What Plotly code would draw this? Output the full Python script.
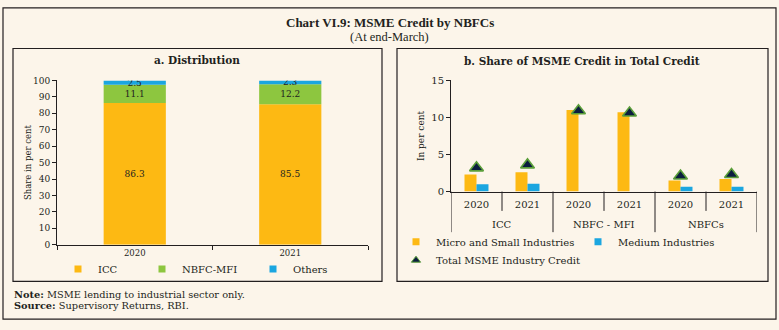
import plotly.graph_objects as go

W, H = 779, 330
BG = "#FCF5EA"
INK = "#231F20"
YEL = "#FDB913"
GRN = "#8DC63F"
BLU = "#1BA6E0"
NAVY = "#0B1D3F"
TRI_EDGE = "#5A9E3A"

# Panel a data
years_a = ["2020", "2021"]
icc = [86.3, 85.5]
nbfc_mfi = [11.1, 12.2]
others = [2.5, 2.3]

# Panel b data
groups_b = ["ICC", "ICC", "NBFC - MFI", "NBFC - MFI", "NBFCs", "NBFCs"]
years_b = ["2020", "2021", "2020", "2021", "2020", "2021"]
micro_small = [2.3, 2.6, 11.0, 10.7, 1.5, 1.7]
medium = [1.0, 1.05, 0.0, 0.0, 0.65, 0.65]
total_msme = [3.2, 3.6, 10.9, 10.6, 2.1, 2.3]

SERIF = "DejaVu Serif"

def px_x(v):
    return v / W

def px_y(v):
    return 1 - v / H

fig = go.Figure()

# Panel a: stacked via explicit base
base_mfi = [a for a in icc]
base_oth = [a + b for a, b in zip(icc, nbfc_mfi)]
for name, vals, base, col, lg in [
    ("ICC", icc, None, YEL, "legend"),
    ("NBFC-MFI", nbfc_mfi, base_mfi, GRN, "legend2"),
    ("Others", others, base_oth, BLU, "legend3"),
]:
    fig.add_trace(go.Bar(
        x=years_a, y=vals, base=base, name=name, marker_color=col,
        marker_line_width=0, width=0.4, offsetgroup="a",
        text=[f"{v:.1f}" for v in vals], textposition="inside",
        insidetextanchor="middle", textangle=0, constraintext="none",
        textfont=dict(family=SERIF, size=9, color=INK),
        xaxis="x", yaxis="y", showlegend=False, legendgroup=name,
    ))
    fig.add_trace(go.Scatter(
        x=[None], y=[None], mode="markers", name=name, legend=lg,
        marker=dict(symbol="square", size=7, color=col),
        xaxis="x", yaxis="y", legendgroup=name,
    ))

# Panel b: unique category per bar position, year shown as tick text
xcats = [f"{g} {y}" for g, y in zip(groups_b, years_b)]
fig.add_trace(go.Bar(x=xcats, y=micro_small, name="Micro and Small Industries",
                     marker_color=YEL, marker_line_width=0, xaxis="x2", yaxis="y2",
                     showlegend=False, legendgroup="ms"))
fig.add_trace(go.Bar(x=xcats, y=medium, name="Medium Industries",
                     marker_color=BLU, marker_line_width=0, xaxis="x2", yaxis="y2",
                     showlegend=False, legendgroup="md"))
fig.add_trace(go.Scatter(x=xcats, y=total_msme, mode="markers", name="Total MSME Industry Credit",
                         marker=dict(symbol="triangle-up", size=12, color=NAVY,
                                     line=dict(color=TRI_EDGE, width=1.6)),
                         xaxis="x2", yaxis="y2", showlegend=False, legendgroup="tt"))
for name, col, sym, lg, grp, sz, lw in [
    ("Micro and Small Industries", YEL, "square", "legend4", "ms", 7, 0),
    ("Medium Industries", BLU, "square", "legend5", "md", 7, 0),
    ("Total MSME Industry Credit", NAVY, "triangle-up", "legend6", "tt", 8, 1),
]:
    fig.add_trace(go.Scatter(
        x=[None], y=[None], mode="markers", name=name, legend=lg,
        marker=dict(symbol=sym, size=sz, color=col, line=dict(color=TRI_EDGE, width=lw)),
        xaxis="x2", yaxis="y2", legendgroup=grp,
    ))

axis_common = dict(showgrid=False, zeroline=False, showline=True, linecolor=INK,
                   linewidth=1, ticks="outside", tickcolor=INK, ticklen=4)

def leg(xpx, ypx, size=10):
    return dict(x=px_x(xpx), y=px_y(ypx), xanchor="left", yanchor="middle",
                orientation="h", bgcolor="rgba(0,0,0,0)",
                font=dict(family=SERIF, size=size, color=INK), itemwidth=30,
                tracegroupgap=0)

shapes = [
    dict(type="rect", xref="paper", yref="paper", x0=px_x(3), x1=px_x(776),
         y0=px_y(325), y1=px_y(3), line=dict(color=INK, width=1.2)),
    dict(type="rect", xref="paper", yref="paper", x0=px_x(13), x1=px_x(382),
         y0=px_y(286), y1=px_y(45), line=dict(color=INK, width=1.2)),
    dict(type="rect", xref="paper", yref="paper", x0=px_x(397), x1=px_x(768),
         y0=px_y(286), y1=px_y(45), line=dict(color=INK, width=1.2)),
]

# panel b category boundaries: short ticks between years, long dividers between groups
AX_B = 193  # pixel row of the panel-b x axis
for i in range(len(xcats) + 1):
    is_group_edge = (i == 0 or i == len(xcats) or groups_b[i] != groups_b[i - 1])
    depth = 42 if is_group_edge else 20
    shapes.append(dict(type="line", xref="x2", yref="paper", x0=i - 0.5, x1=i - 0.5,
                       y0=px_y(AX_B), y1=px_y(AX_B + depth),
                       line=dict(color=INK, width=1)))

def ann(text, x, y, size, family=SERIF, xanchor="center"):
    return dict(text=text, x=px_x(x), y=px_y(y), xref="paper", yref="paper",
                xanchor=xanchor, yanchor="middle", showarrow=False,
                font=dict(family=family, size=size, color=INK))

annotations = [
    ann("<b>Chart VI.9: MSME Credit by NBFCs</b>", 389.5, 18, 13, "Liberation Serif"),
    ann("(At end-March)", 389.5, 33, 12.5, "Liberation Serif"),
    ann("<b>a. Distribution</b>", 197, 57, 10.5),
    ann("<b>b. Share of MSME Credit in Total Credit</b>", 582, 58, 10.5),
    ann("<b>Note:</b> MSME lending to industrial sector only.", 12, 299, 9.8, xanchor="left"),
    ann("<b>Source:</b> Supervisory Returns, RBI.", 12, 311, 9.8, xanchor="left"),
]

# group labels under panel b, centred on each group's categories
seen = []
for g in groups_b:
    if g not in seen:
        seen.append(g)
for g in seen:
    idx = [i for i, gg in enumerate(groups_b) if gg == g]
    annotations.append(dict(text=g, x=sum(idx) / len(idx), y=px_y(227), xref="x2", yref="paper",
                            xanchor="center", yanchor="middle", showarrow=False,
                            font=dict(family=SERIF, size=10, color=INK)))

fig.update_layout(
    width=W, height=H, margin=dict(l=0, r=0, t=0, b=0),
    paper_bgcolor=BG, plot_bgcolor=BG,
    barmode="group", bargap=0.53, bargroupgap=0,
    shapes=shapes, annotations=annotations,
    xaxis=dict(domain=[px_x(57), px_x(368)], anchor="y", tickson="boundaries",
               tickfont=dict(family=SERIF, size=8.5, color=INK), **axis_common),
    yaxis=dict(domain=[1 - 248 / H, 1 - 78 / H], anchor="x", range=[0, 100], dtick=10,
               tickfont=dict(family=SERIF, size=9, color=INK),
               title=dict(text="Share in per cent", standoff=0,
                          font=dict(family=SERIF, size=8.5, color=INK)), **axis_common),
    xaxis2=dict(domain=[px_x(451), px_x(757)], anchor="y2", type="category",
                tickvals=xcats, ticktext=years_b, range=[-0.5, len(xcats) - 0.5],
                tickfont=dict(family=SERIF, size=10, color=INK), ticklabelstandoff=3,
                showgrid=False, zeroline=False, showline=True, linecolor=INK,
                linewidth=1, ticks=""),
    yaxis2=dict(domain=[1 - AX_B / H, 1 - 78 / H], anchor="x2", range=[0, 15], dtick=5,
                tickfont=dict(family=SERIF, size=10, color=INK),
                title=dict(text="In per cent", standoff=5,
                           font=dict(family=SERIF, size=9, color=INK)), **axis_common),
    legend=leg(58, 273),
    legend2=leg(142, 273),
    legend3=leg(253, 273),
    legend4=leg(396, 245, 10),
    legend5=leg(578, 245, 10),
    legend6=leg(396, 264, 10),
    showlegend=True,
)

fig.write_html("out.html")
